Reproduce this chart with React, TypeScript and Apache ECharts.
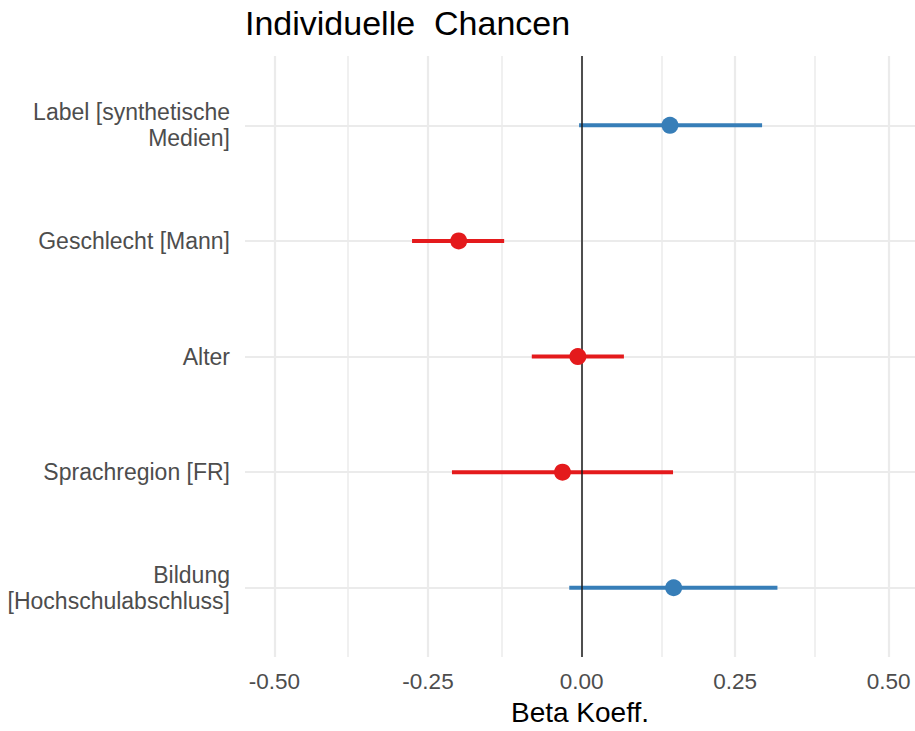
import React, { useEffect, useRef } from "react";
import * as echarts from "echarts";

const categories = [
  "Label [synthetische\nMedien]",
  "Geschlecht [Mann]",
  "Alter",
  "Sprachregion [FR]",
  "Bildung\n[Hochschulabschluss]",
];
const estimates = [0.144, -0.2, -0.006, -0.031, 0.15];
const lower = [-0.004, -0.276, -0.081, -0.211, -0.02];
const upper = [0.294, -0.126, 0.069, 0.149, 0.319];
const groups = ["pos", "neg", "neg", "neg", "pos"];
const groupColors: Record<string, string> = { pos: "#377EB8", neg: "#E41A1C" };

const xMajorTicks = [-0.5, -0.25, 0, 0.25, 0.5];
const xMinorTicks = [-0.375, -0.125, 0.125, 0.375];

const FONT = "Liberation Sans, Arial, sans-serif";

export default function App() {
  const ref = useRef<HTMLDivElement>(null);
  useEffect(() => {
    if (!ref.current) return;
    const chart = echarts.init(ref.current, undefined, { renderer: "svg" });
    const n = categories.length;
    const yPos = categories.map((_, i) => n - i);
    const rows = categories.map((c, i) => [lower[i], upper[i], yPos[i], estimates[i], i]);

    const gridLines: any[] = [];
    xMinorTicks.forEach((v) =>
      gridLines.push({ xAxis: v, lineStyle: { color: "#ebebeb", width: 1.5, type: "solid" } })
    );
    xMajorTicks.forEach((v) =>
      gridLines.push({ xAxis: v, lineStyle: { color: "#ebebeb", width: 2.2, type: "solid" } })
    );
    yPos.forEach((v) =>
      gridLines.push({ yAxis: v, lineStyle: { color: "#ebebeb", width: 2.2, type: "solid" } })
    );

    chart.setOption({
      animation: false,
      backgroundColor: "#ffffff",
      title: {
        text: "Individuelle  Chancen",
        left: 240,
        top: 1,
        textStyle: { fontFamily: FONT, fontSize: 34, fontWeight: "normal", color: "#000000" },
      },
      grid: { left: 245, right: 0, top: 56, bottom: 67, containLabel: false },
      xAxis: {
        type: "value",
        min: -0.548,
        max: 0.543,
        name: "Beta Koeff.",
        nameLocation: "middle",
        nameGap: 40,
        nameTextStyle: { fontFamily: FONT, fontSize: 28, color: "#000000" },
        axisLine: { show: false },
        axisTick: { show: false, customValues: xMajorTicks },
        splitLine: { show: false },
        axisLabel: {
          customValues: xMajorTicks,
          margin: 13,
          fontFamily: FONT,
          fontSize: 22.5,
          color: "#4d4d4d",
          formatter: (v: number) => v.toFixed(2),
        },
      },
      yAxis: {
        type: "value",
        min: 0.4,
        max: n + 0.6,
        axisLine: { show: false },
        axisTick: { show: false, customValues: yPos },
        splitLine: { show: false },
        axisLabel: {
          customValues: yPos,
          margin: 15,
          fontFamily: FONT,
          fontSize: 23,
          lineHeight: 26,
          color: "#4d4d4d",
          align: "right",
          formatter: (v: number) => {
            const idx = n - Math.round(v);
            return categories[idx] ?? "";
          },
        },
      },
      series: [
        {
          type: "line",
          data: [],
          silent: true,
          z: 1,
          markLine: {
            silent: true,
            z: 1,
            symbol: ["none", "none"],
            label: { show: false },
            data: gridLines,
          },
        },
        {
          type: "line",
          data: [],
          silent: true,
          z: 3,
          markLine: {
            silent: true,
            z: 3,
            symbol: ["none", "none"],
            label: { show: false },
            data: [{ xAxis: 0, lineStyle: { color: "#1a1a1a", width: 1.5, type: "solid" } }],
          },
        },
        {
          type: "custom",
          z: 2,
          silent: true,
          data: rows,
          renderItem: (params: any, api: any) => {
            const lo = api.coord([api.value(0), api.value(2)]);
            const hi = api.coord([api.value(1), api.value(2)]);
            const idx = api.value(4);
            return {
              type: "rect",
              shape: { x: lo[0], y: lo[1] - 2, width: hi[0] - lo[0], height: 4 },
              style: { fill: groupColors[groups[idx]], stroke: "none" },
            };
          },
          encode: { x: [0, 1], y: 2 },
        },
        {
          type: "scatter",
          z: 4,
          symbolSize: 17,
          data: categories.map((_, i) => ({
            value: [estimates[i], yPos[i]],
            itemStyle: { color: groupColors[groups[i]], opacity: 1 },
          })),
        },
      ],
    });
    return () => chart.dispose();
  }, []);
  return (
    <div
      ref={ref}
      style={{ position: "fixed", left: 0, top: 0, width: 915, height: 731 }}
    />
  );
}
